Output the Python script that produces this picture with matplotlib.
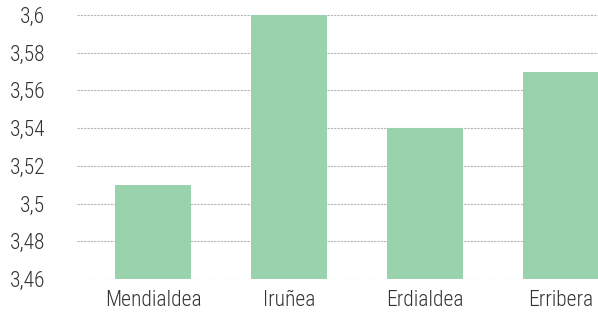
import matplotlib.pyplot as plt
from matplotlib.ticker import FuncFormatter

# data
regions = ["Mendialdea", "Iruñea", "Erdialdea", "Erribera"]
scores = [3.51, 3.60, 3.54, 3.57]
y_ticks = [3.46, 3.48, 3.50, 3.52, 3.54, 3.56, 3.58, 3.60]

plt.rcParams['font.family'] = ['Roboto Condensed', 'Liberation Sans Narrow', 'Roboto', 'DejaVu Sans']

fig = plt.figure(figsize=(5.98, 3.15), dpi=100)
ax = fig.add_axes([77 / 598, 1 - 279 / 315, 1 - 77 / 598, (279 - 15) / 315])

x = range(len(regions))
ax.bar(x, scores, width=0.56, color="#99d3ae", zorder=2)

ax.set_ylim(3.46, 3.60)
ax.set_xlim(-0.559, 3.272)
ax.set_yticks(y_ticks)
ax.yaxis.set_major_formatter(FuncFormatter(lambda v, p: ("%g" % round(v, 2)).replace(".", ",")))
ax.set_xticks(list(x))
ax.set_xticklabels(regions)

ax.grid(axis="y", color="#b5b5b5", linestyle=(0, (2, 1)), linewidth=0.8, zorder=0)
for s in ax.spines.values():
    s.set_visible(False)
ax.tick_params(length=0, labelsize=15.5, colors="#333333")
for lbl in ax.get_xticklabels() + ax.get_yticklabels():
    lbl.set_fontweight("light")
ax.tick_params(axis="y", pad=23)
ax.tick_params(axis="x", pad=8)

fig.savefig("out.png", dpi=100)
